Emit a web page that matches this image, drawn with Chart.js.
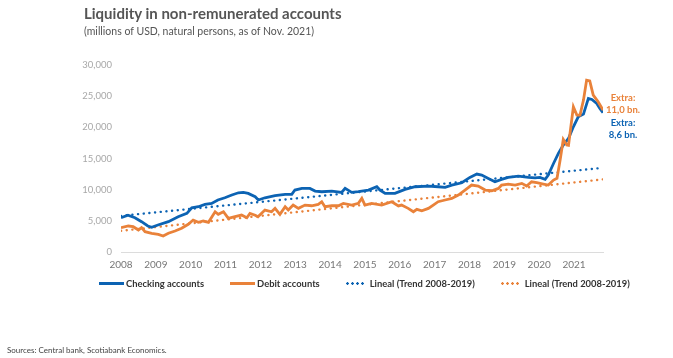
<!DOCTYPE html>
<html>
<head>
<meta charset="utf-8">
<script src="https://cdn.jsdelivr.net/npm/chart.js@4.4.1/dist/chart.umd.min.js"></script>
<style>
  html, body { margin: 0; padding: 0; background: #fff; }
  #wrap { position: relative; width: 673px; height: 358px; overflow: hidden; font-family: Lato, 'Open Sans', sans-serif; }
  #liqCanvas { position: absolute; left: 0; top: 0; }
  .title { position: absolute; left: 84px; top: 4px; font-size: 15px; font-weight: 700; color: #555; white-space: nowrap; }
  .subtitle { position: absolute; left: 84px; top: 25px; font-size: 10.5px; color: #555; white-space: nowrap; }
  .legend { position: absolute; left: 99px; top: 278px; display: flex; gap: 26px; font-size: 9.4px; font-weight: 700; color: #333; white-space: nowrap; }
  .lg { display: flex; align-items: center; }
  .lg i { display: inline-block; width: 25px; height: 3px; margin-right: 2px; }
  .lg i.dot { width: 20px; height: 3px; margin-right: 4px; background-repeat: repeat-x; background-size: 5px 3px; }
  .source { position: absolute; left: 7px; top: 345px; font-size: 8px; color: #444; white-space: nowrap; }
</style>
</head>
<body>
<div id="wrap">
  <canvas id="liqCanvas" width="673" height="358"></canvas>
  <div class="title">Liquidity in non-remunerated accounts</div>
  <div class="subtitle">(millions of USD, natural persons, as of Nov. 2021)</div>
  <div class="legend" id="liqLegend"></div>
  <div class="source">Sources: Central bank, Scotiabank Economics.</div>
</div>
<script>
/* liquidez en cuentas no remuneradas — cuentas corrientes vs. débito */
const BLUE = '#0c63b3';
const ORANGE = '#e9823a';

// cuentas corrientes (años decimales, millones USD)
const checkingX = [2008.0, 2008.2, 2008.4, 2008.59, 2008.77, 2008.88, 2009.06, 2009.36, 2009.64, 2009.89,
  2010.03, 2010.22, 2010.41, 2010.6, 2010.78, 2010.98, 2011.18, 2011.37, 2011.51, 2011.65,
  2011.85, 2011.94, 2012.13, 2012.42, 2012.71, 2012.9, 2012.99, 2013.19, 2013.42, 2013.57,
  2013.76, 2014.05, 2014.33, 2014.43, 2014.62, 2014.81, 2015.1, 2015.34, 2015.43, 2015.58,
  2015.86, 2016.15, 2016.44, 2016.82, 2017.1, 2017.3, 2017.49, 2017.78, 2018.01, 2018.21,
  2018.35, 2018.54, 2018.73, 2018.92, 2019.11, 2019.4, 2019.69, 2019.88, 2020.02, 2020.17,
  2020.26, 2020.41, 2020.55, 2020.69, 2020.84, 2020.98, 2021.12, 2021.27, 2021.41, 2021.51,
  2021.65, 2021.74, 2021.83];
const checkingY = [5500, 5900, 5500, 4860, 4170, 3950, 4330, 4860, 5660, 6200,
  7100, 7260, 7640, 7800, 8340, 8700, 9140, 9500, 9560, 9400,
  8860, 8340, 8700, 9030, 9250, 9250, 9940, 10200, 10200, 9780,
  9670, 9780, 9560, 10200, 9560, 9670, 9940, 10470, 9940, 9400,
  9400, 10050, 10470, 10580, 10470, 10370, 10740, 11110, 11970, 12500,
  12340, 11810, 11270, 11650, 11970, 12180, 11970, 11900, 11970, 11650,
  12340, 14200, 15820, 17150, 18220, 20090, 21690, 22120, 24640, 24480,
  23840, 23040, 22330];

// cuentas de débito
const debitX = [2008.0, 2008.21, 2008.35, 2008.5, 2008.59, 2008.69, 2008.88, 2009.07, 2009.21, 2009.36,
  2009.55, 2009.74, 2009.93, 2010.07, 2010.22, 2010.36, 2010.51, 2010.7, 2010.79, 2010.94,
  2011.08, 2011.27, 2011.46, 2011.61, 2011.7, 2011.85, 2011.93, 2012.13, 2012.32, 2012.42,
  2012.56, 2012.71, 2012.8, 2012.94, 2013.09, 2013.28, 2013.47, 2013.66, 2013.76, 2013.85,
  2014.05, 2014.24, 2014.38, 2014.62, 2014.81, 2014.91, 2015.0, 2015.19, 2015.48, 2015.77,
  2015.96, 2016.05, 2016.24, 2016.39, 2016.49, 2016.63, 2016.82, 2016.96, 2017.1, 2017.3,
  2017.49, 2017.68, 2017.87, 2018.06, 2018.25, 2018.45, 2018.64, 2018.83, 2018.92, 2019.11,
  2019.31, 2019.5, 2019.64, 2019.78, 2019.93, 2020.12, 2020.26, 2020.41, 2020.51, 2020.6,
  2020.69, 2020.79, 2020.84, 2020.98, 2021.08, 2021.17, 2021.27, 2021.36, 2021.45, 2021.55,
  2021.69, 2021.83];
const debitY = [3900, 4170, 4060, 3530, 3900, 3260, 3000, 2830, 2560, 3000,
  3370, 3800, 4440, 5130, 4760, 4970, 4760, 6460, 6040, 6460,
  5400, 5660, 5930, 5500, 6200, 5900, 5660, 6730, 6460, 7000,
  6040, 7260, 6730, 7530, 7000, 7530, 7420, 7640, 8070, 7260,
  7420, 7420, 7800, 7530, 7800, 8600, 7530, 7800, 7530, 8070,
  7400, 7530, 7000, 6460, 6840, 6620, 7000, 7530, 8070, 8340,
  8600, 9140, 9940, 10740, 10580, 9940, 9830, 10200, 10740, 10900,
  10740, 11010, 10580, 11270, 11110, 10900, 10740, 11540, 11810, 14750,
  18060, 17150, 17100, 23300, 21960, 21960, 24370, 27570, 27460, 25170,
  24100, 22760];

// tendencias lineales 2008-2019 (extremos)
const trendX = [2008.0, 2021.83];
const checkingTrendY = [5800, 13500];
const debitTrendY = [3400, 11650];

const pts = (xs, ys) => xs.map((x, i) => ({ x, y: ys[i] }));
const isYear = (v) => Math.abs(v - Math.round(v)) < 1e-6;

const datasets = [
  { label: 'Checking accounts', data: pts(checkingX, checkingY), borderColor: BLUE, borderWidth: 2.8, order: 1 },
  { label: 'Debit accounts', data: pts(debitX, debitY), borderColor: ORANGE, borderWidth: 2.8, order: 0 },
  { label: 'Lineal (Trend 2008-2019)', data: pts(trendX, checkingTrendY), borderColor: BLUE, borderWidth: 2.4,
    borderDash: [0.1, 5.6], borderCapStyle: 'round', dotted: true, order: 2 },
  { label: 'Lineal (Trend 2008-2019)', data: pts(trendX, debitTrendY), borderColor: ORANGE, borderWidth: 2.4,
    borderDash: [0.1, 5.6], borderCapStyle: 'round', dotted: true, order: 3 },
];
datasets.forEach((d) => { d.fill = false; d.tension = 0; d.pointRadius = 0; d.backgroundColor = 'transparent'; });

// textos "Extra" a la derecha
const extraLabels = {
  id: 'extraLabels',
  afterDraw(chart) {
    const { ctx, chartArea } = chart;
    const x = chartArea.right + 20;
    ctx.save();
    ctx.font = "bold 9.5px Lato, 'Open Sans', sans-serif";
    ctx.textAlign = 'center';
    ctx.textBaseline = 'middle';
    ctx.fillStyle = ORANGE;
    ctx.fillText('Extra:', x, 98);
    ctx.fillText('11,0 bn.', x, 110);
    ctx.fillStyle = BLUE;
    ctx.fillText('Extra:', x, 123);
    ctx.fillText('8,6 bn.', x, 135);
    ctx.restore();
  },
};

Chart.defaults.font.family = "Lato, 'Open Sans', sans-serif";
new Chart(document.getElementById('liqCanvas').getContext('2d'), {
  type: 'line',
  data: { datasets },
  options: {
    responsive: false,
    animation: false,
    layout: { padding: { top: 65, right: 70, bottom: 82, left: 0 } },
    plugins: { legend: { display: false }, tooltip: { enabled: false } },
    scales: {
      x: {
        type: 'linear', min: 2008, max: 2021.83,
        grid: { display: false, drawTicks: false },
        border: { display: true, color: '#dcdcdc', width: 1 },
        afterBuildTicks: (s) => { s.ticks = s.ticks.filter((t) => isYear(t.value)); },
        afterFit: (s) => { s.height = 24; },
        ticks: { stepSize: 1, includeBounds: false, autoSkip: false, maxRotation: 0, padding: 7, color: '#777',
          font: { size: 10 }, callback: (v) => String(Math.round(v)) },
      },
      y: {
        min: 0, max: 30000,
        grid: { display: false, drawTicks: false },
        border: { display: false },
        afterFit: (s) => { s.width = 121; },
        ticks: { stepSize: 5000, padding: 9, color: '#a8a8a8', font: { size: 9.5 },
          callback: (v) => Intl.NumberFormat('en-US').format(v) },
      },
    },
  },
  plugins: [extraLabels],
});

// leyenda
document.getElementById('liqLegend').innerHTML = datasets.map((d) => {
  const sw = d.dotted
    ? `<i class="dot" style="background-image:radial-gradient(circle at 1.5px 1.5px, ${d.borderColor} 1.1px, transparent 1.5px)"></i>`
    : `<i style="background:${d.borderColor}"></i>`;
  return `<span class="lg">${sw}${d.label}</span>`;
}).join('');
</script>
</body>
</html>
